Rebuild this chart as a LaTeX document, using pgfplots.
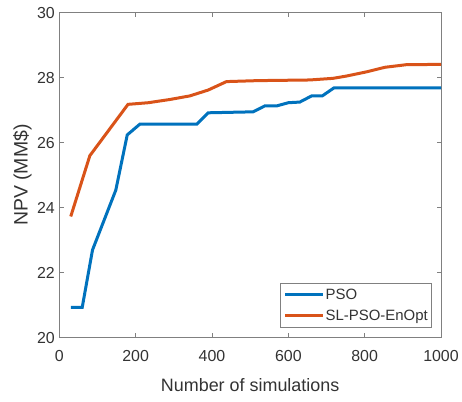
\documentclass[border=0pt]{standalone}
\usepackage{pgfplots}
\pgfplotsset{compat=1.18}
\usepackage{fontspec}
\setmainfont{Liberation Sans}
\definecolor{mblue}{rgb}{0,0.447,0.741}
\definecolor{morange}{rgb}{0.85,0.325,0.098}
\definecolor{axgray}{rgb}{0.5,0.5,0.5}
\definecolor{txtgray}{rgb}{0.2,0.2,0.2}
\begin{document}
\begin{tikzpicture}
\begin{axis}[
  scale only axis,
  width=381.7bp, height=325bp,
  xmin=0, xmax=1000, ymin=20, ymax=30,
  xtick={0,200,400,600,800,1000},
  ytick={20,22,24,26,28,30},
  tick align=inside,
  major tick length=4.5bp,
  axis line style={axgray, line width=0.8bp},
  every tick/.style={axgray, line width=0.8bp},
  /pgf/number format/assume math mode=true,
  /pgf/number format/1000 sep={},
  ticklabel style={font=\fontsize{16}{19}\selectfont, text=txtgray},
  xticklabel style={yshift=-9bp},
  yticklabel style={xshift=-1bp},
  xlabel={Number of simulations},
  ylabel={NPV (MM\$)},
  every axis x label/.style={at={(axis description cs:0.5,0)}, anchor=base, yshift=-54bp, font=\fontsize{18}{21}\selectfont, text=txtgray},
  every axis y label/.style={at={(axis description cs:0,0.5)}, anchor=center, rotate=90, yshift=36.8bp, font=\fontsize{19.5}{23}\selectfont, text=txtgray},
  legend cell align=left,
  legend style={at={(0.977,0.029)}, anchor=south east, draw=axgray, line width=0.8bp,
    font=\fontsize{15}{17}\selectfont, text=txtgray, inner xsep=3bp, inner ysep=5bp, row sep=7bp,
    nodes={inner sep=1bp}},
  legend image code/.code={\draw[#1, line width=3bp] (0bp,0bp) -- (38bp,0bp);},
]
\addplot[mblue, line width=3bp] coordinates {
(30,20.93) (60,20.93) (87,22.70) (148,24.54) (178,26.24) (211,26.57)
(360,26.57) (390,26.92) (508,26.95) (538,27.13) (569,27.13) (600,27.23)
(630,27.25) (661,27.44) (689,27.44) (720,27.69) (1000,27.69)
};
\addlegendentry{PSO}
\addplot[morange, line width=3bp] coordinates {
(30,23.73) (80,25.60) (180,27.18) (233,27.23) (290,27.33) (342,27.44)
(390,27.62) (438,27.88) (520,27.91) (656,27.93) (717,27.98) (752,28.05)
(805,28.18) (853,28.32) (909,28.40) (1000,28.41)
};
\addlegendentry{SL-PSO-EnOpt}
\end{axis}
\pgfresetboundingbox
\path ([shift={(-59.3bp,-64.3bp)}]current axis.south west) rectangle ([shift={(21bp,12.7bp)}]current axis.north east);
\end{tikzpicture}
\end{document}
